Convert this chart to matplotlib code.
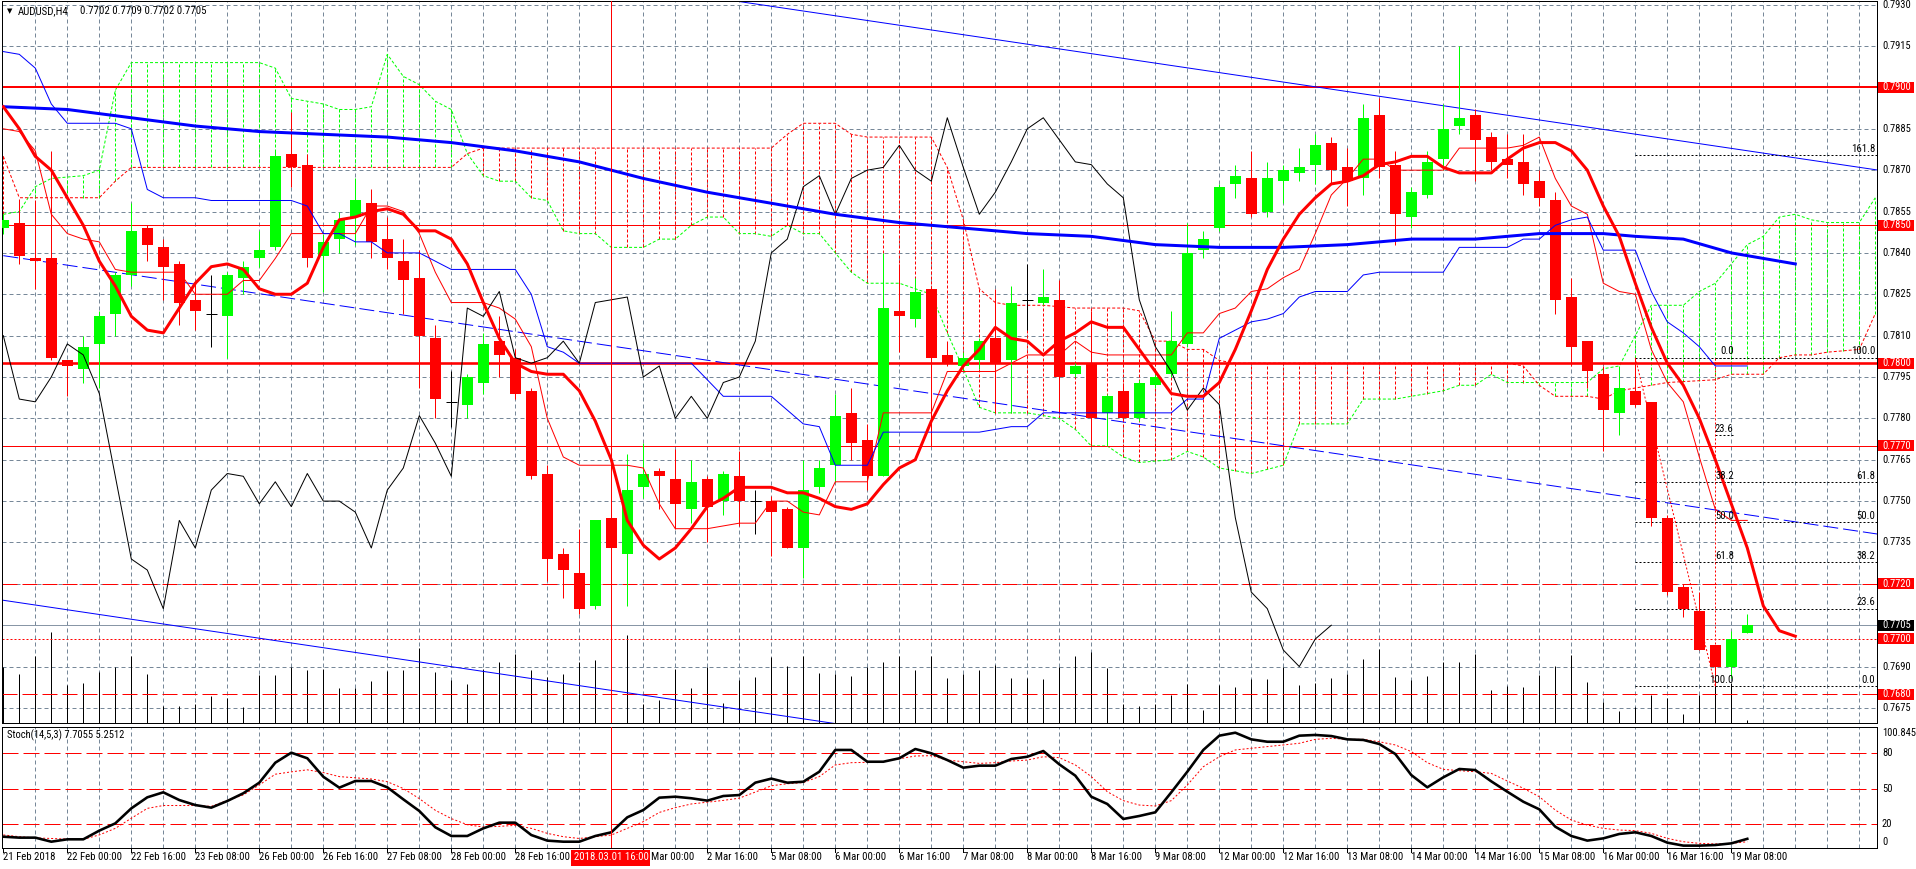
import numpy as np
import matplotlib
matplotlib.use("Agg")
import matplotlib.pyplot as plt
from matplotlib import font_manager as fm
from matplotlib.patches import Rectangle
from matplotlib.textpath import TextPath
from matplotlib.transforms import blended_transform_factory

# ======================= DATA =======================
symbol_text = "AUDUSD,H4"
header_ohlc = "0.7702 0.7709 0.7702 0.7705"
stoch_title = "Stoch(14,5,3) 7.7055 5.2512"

opens = [0.7849, 0.7851, 0.7838, 0.7838, 0.7801, 0.7798, 0.7807, 0.7818, 0.7832, 0.7849,
         0.7842, 0.7836, 0.7823, 0.7818, 0.7817, 0.7831, 0.7838, 0.7842, 0.7876, 0.7872,
         0.7839, 0.7845, 0.7853, 0.7858, 0.7845, 0.7837, 0.7831, 0.7809, 0.7786, 0.7785,
         0.7793, 0.7808, 0.7802, 0.7790, 0.7760, 0.7731, 0.7724, 0.7712, 0.7744, 0.7731,
         0.7755, 0.7761, 0.7758, 0.7747, 0.7758, 0.7750, 0.7759, 0.7750, 0.7750, 0.7747,
         0.7733, 0.7755, 0.7763, 0.7782, 0.7772, 0.7759, 0.7819, 0.7816, 0.7827, 0.7803,
         0.7799, 0.7801, 0.7809, 0.7801, 0.7823, 0.7822, 0.7823, 0.7796, 0.7800, 0.7782,
         0.7790, 0.7780, 0.7792, 0.7796, 0.7807, 0.7841, 0.7849, 0.7865, 0.7867, 0.7855,
         0.7866, 0.7869, 0.7872, 0.7880, 0.7871, 0.7867, 0.7890, 0.7872, 0.7853, 0.7861,
         0.7874, 0.7886, 0.7890, 0.7882, 0.7874, 0.7873, 0.7866, 0.7859, 0.7824, 0.7808,
         0.7796, 0.7782, 0.7790, 0.7786, 0.7744, 0.7719, 0.7710, 0.7698, 0.7690, 0.7702]
highs = [0.7854, 0.7859, 0.7859, 0.7877, 0.7801, 0.7810, 0.7819, 0.7833, 0.7858, 0.7850,
         0.7845, 0.7837, 0.7829, 0.7832, 0.7833, 0.7837, 0.7848, 0.7877, 0.7891, 0.7876,
         0.7847, 0.7855, 0.7867, 0.7863, 0.7853, 0.7845, 0.7841, 0.7814, 0.7797, 0.7796,
         0.7811, 0.7817, 0.7805, 0.7791, 0.7763, 0.7733, 0.7740, 0.7743, 0.7744, 0.7767,
         0.7771, 0.7762, 0.7769, 0.7765, 0.7759, 0.7761, 0.7768, 0.7754, 0.7752, 0.7748,
         0.7765, 0.7765, 0.7789, 0.7791, 0.7778, 0.7840, 0.7836, 0.7831, 0.7828, 0.7808,
         0.7804, 0.7809, 0.7827, 0.7828, 0.7836, 0.7834, 0.7830, 0.7800, 0.7819, 0.7789,
         0.7793, 0.7794, 0.7796, 0.7819, 0.7851, 0.7848, 0.7865, 0.7872, 0.7877, 0.7873,
         0.7872, 0.7878, 0.7883, 0.7882, 0.7878, 0.7894, 0.7896, 0.7877, 0.7864, 0.7877,
         0.7894, 0.7915, 0.7892, 0.7884, 0.7883, 0.7883, 0.7870, 0.7862, 0.7831, 0.7808,
         0.7799, 0.7799, 0.7802, 0.7786, 0.7745, 0.7720, 0.7717, 0.7698, 0.7703, 0.7709]
lows = [0.7847, 0.7836, 0.7827, 0.7801, 0.7788, 0.7793, 0.7791, 0.7810, 0.7828, 0.7837,
        0.7823, 0.7814, 0.7812, 0.7806, 0.7802, 0.7825, 0.7835, 0.7841, 0.7864, 0.7835,
        0.7826, 0.7840, 0.7843, 0.7838, 0.7834, 0.7818, 0.7791, 0.7780, 0.7777, 0.7780,
        0.7789, 0.7795, 0.7787, 0.7758, 0.7721, 0.7715, 0.7709, 0.7711, 0.7733, 0.7712,
        0.7751, 0.7747, 0.7740, 0.7742, 0.7735, 0.7745, 0.7741, 0.7738, 0.7730, 0.7733,
        0.7722, 0.7753, 0.7757, 0.7765, 0.7754, 0.7759, 0.7804, 0.7813, 0.7770, 0.7799,
        0.7797, 0.7798, 0.7782, 0.7782, 0.7812, 0.7821, 0.7782, 0.7795, 0.7770, 0.7770,
        0.7779, 0.7779, 0.7791, 0.7795, 0.7806, 0.7838, 0.7848, 0.7860, 0.7853, 0.7853,
        0.7858, 0.7866, 0.7865, 0.7865, 0.7857, 0.7861, 0.7867, 0.7843, 0.7849, 0.7860,
        0.7870, 0.7883, 0.7866, 0.7870, 0.7867, 0.7861, 0.7857, 0.7818, 0.7799, 0.7791,
        0.7768, 0.7774, 0.7784, 0.7741, 0.7716, 0.7708, 0.7696, 0.7683, 0.7686, 0.7702]
closes = [0.7852, 0.7839, 0.7837, 0.7802, 0.7799, 0.7806, 0.7817, 0.7832, 0.7848, 0.7843,
          0.7835, 0.7822, 0.7819, 0.7818, 0.7832, 0.7835, 0.7841, 0.7875, 0.7871, 0.7838,
          0.7844, 0.7852, 0.7859, 0.7844, 0.7838, 0.7830, 0.7810, 0.7787, 0.7786, 0.7795,
          0.7807, 0.7803, 0.7789, 0.7759, 0.7729, 0.7725, 0.7711, 0.7743, 0.7733, 0.7754,
          0.7760, 0.7759, 0.7749, 0.7757, 0.7748, 0.7760, 0.7750, 0.7750, 0.7746, 0.7733,
          0.7754, 0.7762, 0.7781, 0.7771, 0.7759, 0.7820, 0.7817, 0.7826, 0.7802, 0.7800,
          0.7802, 0.7808, 0.7800, 0.7822, 0.7823, 0.7824, 0.7795, 0.7799, 0.7780, 0.7788,
          0.7780, 0.7793, 0.7795, 0.7808, 0.7840, 0.7845, 0.7864, 0.7868, 0.7854, 0.7867,
          0.7870, 0.7871, 0.7879, 0.7870, 0.7866, 0.7889, 0.7871, 0.7854, 0.7862, 0.7873,
          0.7885, 0.7889, 0.7881, 0.7873, 0.7872, 0.7865, 0.7860, 0.7823, 0.7806, 0.7797,
          0.7783, 0.7791, 0.7785, 0.7744, 0.7717, 0.7711, 0.7696, 0.7690, 0.7700, 0.7705]
volumes = [5600, 4930, 6730, 9060, 3830, 4030, 5060, 5560, 6660, 4930,
           1730, 1730, 1930, 2660, 2500, 1560, 4800, 4830, 5560, 5330,
           5400, 3460, 3500, 4160, 5160, 5330, 7530, 5060, 4260, 3930,
           5400, 6130, 6930, 5260, 4560, 4930, 6130, 6260, 4660, 8830,
           1900, 2260, 5400, 3530, 5600, 2000, 4330, 4630, 6600, 5730,
           6660, 5030, 4930, 4730, 5600, 6130, 6730, 5330, 6730, 4530,
           4860, 5330, 5830, 4460, 4530, 4430, 5600, 6660, 7060, 5460,
           1930, 1660, 1860, 2800, 3930, 1330, 3830, 3630, 4430, 4430,
           5600, 3830, 3960, 4530, 4900, 6430, 7430, 4630, 4300, 4730,
           6060, 6130, 6930, 3260, 3660, 3560, 4760, 5730, 6830, 4130,
           2060, 1230, 1560, 2800, 2500, 930, 2830, 4000, 4000, 330]

# thick red moving average (shifted 3 bars forward), bars 0..112
ma_red = [0.7893, 0.7885, 0.7875, 0.7870, 0.7860, 0.7850, 0.7837, 0.7828, 0.7817, 0.7812,
          0.7811, 0.7820, 0.7829, 0.7835, 0.7836, 0.7834, 0.7827, 0.7825, 0.7825, 0.7829,
          0.7842, 0.7852, 0.7853, 0.7855, 0.7856, 0.7854, 0.7848, 0.7848, 0.7845, 0.7836,
          0.7822, 0.7809, 0.7800, 0.7797, 0.7796, 0.7796, 0.7790, 0.7779, 0.7765, 0.7743,
          0.7734, 0.7729, 0.7733, 0.7740, 0.7748, 0.7751, 0.7755, 0.7755, 0.7755, 0.7753,
          0.7753, 0.7751, 0.7748, 0.7747, 0.7749, 0.7756, 0.7762, 0.7765, 0.7779, 0.7790,
          0.7799, 0.7805, 0.7813, 0.7809, 0.7808, 0.7803, 0.7808, 0.7811, 0.7815, 0.7813,
          0.7813, 0.7805, 0.7797, 0.7789, 0.7788, 0.7788, 0.7793, 0.7805, 0.7819, 0.7834,
          0.7845, 0.7854, 0.7860, 0.7865, 0.7866, 0.7868, 0.7872, 0.7873, 0.7875, 0.7875,
          0.7871, 0.7869, 0.7869, 0.7869, 0.7874, 0.7878, 0.7880, 0.7880, 0.7877, 0.7870,
          0.7857, 0.7846, 0.7829, 0.7813, 0.7800, 0.7792, 0.7780, 0.7765, 0.7749, 0.7733,
          0.7712, 0.7703, 0.7701]
# thick blue moving average
ma_blue_bars = [0, 4, 8, 12, 16, 20, 24, 28, 32, 36, 40, 44, 48, 52, 56, 60, 64, 68, 72, 76,
                80, 84, 88, 92, 96, 100, 102, 105, 108, 112]
ma_blue = [0.7893, 0.7892, 0.7889, 0.7886, 0.7884, 0.7883, 0.7882, 0.7880, 0.7877, 0.7873,
           0.7867, 0.7862, 0.7858, 0.7854, 0.7851, 0.7849, 0.7847, 0.7846, 0.7843, 0.7842,
           0.7842, 0.7843, 0.7845, 0.7845, 0.7847, 0.7847, 0.7846, 0.7845, 0.7840, 0.7836]
# Ichimoku: Tenkan-sen (thin red) and Kijun-sen (thin blue), bars 0..109
tenkan = [0.7885, 0.7884, 0.7877, 0.7854, 0.7847, 0.7845, 0.7844, 0.7834, 0.7833, 0.7833,
          0.7833, 0.7833, 0.7825, 0.7825, 0.7825, 0.7830, 0.7830, 0.7838, 0.7847, 0.7847,
          0.7847, 0.7847, 0.7847, 0.7857, 0.7857, 0.7855, 0.7847, 0.7833, 0.7822, 0.7822,
          0.7822, 0.7820, 0.7816, 0.7806, 0.7780, 0.7766, 0.7763, 0.7763, 0.7763, 0.7763,
          0.7762, 0.7749, 0.7740, 0.7740, 0.7740, 0.7741, 0.7742, 0.7742, 0.7750, 0.7750,
          0.7746, 0.7745, 0.7757, 0.7757, 0.7757, 0.7782, 0.7782, 0.7782, 0.7782, 0.7797,
          0.7797, 0.7797, 0.7797, 0.7800, 0.7803, 0.7803, 0.7803, 0.7808, 0.7804, 0.7803,
          0.7803, 0.7803, 0.7803, 0.7803, 0.7811, 0.7811, 0.7818, 0.7820, 0.7826, 0.7827,
          0.7831, 0.7834, 0.7847, 0.7861, 0.7867, 0.7874, 0.7874, 0.7870, 0.7870, 0.7870,
          0.7870, 0.7878, 0.7878, 0.7878, 0.7878, 0.7879, 0.7882, 0.7867, 0.7857, 0.7854,
          0.7829, 0.7826, 0.7825, 0.7805, 0.7793, 0.7786, 0.7766, 0.7747, 0.7743, 0.7743]
kijun = [0.7913, 0.7912, 0.7907, 0.7894, 0.7887, 0.7887, 0.7887, 0.7887, 0.7885, 0.7863,
         0.7860, 0.7860, 0.7860, 0.7859, 0.7859, 0.7859, 0.7859, 0.7859, 0.7859, 0.7857,
         0.7847, 0.7847, 0.7844, 0.7844, 0.7840, 0.7840, 0.7840, 0.7837, 0.7834, 0.7834,
         0.7834, 0.7834, 0.7834, 0.7825, 0.7806, 0.7804, 0.7800, 0.7800, 0.7800, 0.7800,
         0.7800, 0.7800, 0.7800, 0.7800, 0.7794, 0.7788, 0.7788, 0.7788, 0.7788, 0.7783,
         0.7778, 0.7777, 0.7763, 0.7763, 0.7763, 0.7775, 0.7775, 0.7775, 0.7775, 0.7775,
         0.7775, 0.7775, 0.7776, 0.7777, 0.7777, 0.7782, 0.7782, 0.7782, 0.7782, 0.7782,
         0.7782, 0.7782, 0.7782, 0.7782, 0.7787, 0.7787, 0.7809, 0.7812, 0.7815, 0.7816,
         0.7818, 0.7824, 0.7826, 0.7826, 0.7826, 0.7832, 0.7833, 0.7833, 0.7833, 0.7833,
         0.7833, 0.7842, 0.7842, 0.7842, 0.7842, 0.7845, 0.7845, 0.7850, 0.7852, 0.7853,
         0.7841, 0.7841, 0.7841, 0.7826, 0.7815, 0.7811, 0.7806, 0.7799, 0.7799, 0.7799]
chikou_shift = 26
# Senkou span A (green) and B (red)
span_a_bars = [0, 1, 2, 3, 5, 6, 7, 8, 16, 17, 18, 19, 20, 21, 22, 23, 24, 25, 26, 27, 28, 29,
               30, 31, 32, 33, 34, 35, 36, 37, 38, 39, 40, 41, 42, 43, 44, 45, 46, 47, 48, 49,
               50, 51, 52, 53, 54, 55, 56, 57, 58, 59, 60, 61, 62, 64, 66, 67, 68, 69, 70, 71,
               73, 74, 75, 76, 78, 80, 81, 84, 85, 87, 89, 90, 91, 92, 93, 94, 97, 99, 100,
               101, 102, 103, 104, 105, 106, 107, 108, 109, 110, 111, 112, 113, 114, 116, 117]
span_a = [0.7854, 0.7855, 0.7864, 0.7867, 0.7868, 0.7870, 0.7899, 0.7909, 0.7909, 0.7907,
          0.7896, 0.7895, 0.7894, 0.7892, 0.7892, 0.7893, 0.7912, 0.7904, 0.7901, 0.7895,
          0.7892, 0.7876, 0.7868, 0.7866, 0.7866, 0.7860, 0.7859, 0.7848, 0.7847, 0.7847,
          0.7842, 0.7842, 0.7842, 0.7845, 0.7845, 0.7850, 0.7853, 0.7853, 0.7847, 0.7847,
          0.7846, 0.7850, 0.7847, 0.7847, 0.7840, 0.7833, 0.7829, 0.7829, 0.7829, 0.7827,
          0.7825, 0.7811, 0.7798, 0.7784, 0.7782, 0.7782, 0.7780, 0.7776, 0.7770, 0.7770,
          0.7766, 0.7764, 0.7765, 0.7768, 0.7766, 0.7762, 0.7760, 0.7763, 0.7778, 0.7778,
          0.7787, 0.7787, 0.7789, 0.7790, 0.7792, 0.7792, 0.7796, 0.7793, 0.7793, 0.7793,
          0.7798, 0.7799, 0.7810, 0.7821, 0.7821, 0.7821, 0.7826, 0.7829, 0.7836, 0.7843,
          0.7846, 0.7853, 0.7854, 0.7852, 0.7851, 0.7851, 0.7860]
span_b_bars = [0, 1, 6, 7, 8, 28, 29, 30, 48, 49, 50, 52, 53, 54, 58, 59, 60, 61, 62, 63, 65,
               67, 70, 71, 72, 73, 74, 75, 76, 77, 94, 95, 96, 97, 99, 100, 101, 102, 103,
               104, 107, 108, 110, 111, 112, 113, 114, 116, 117]
span_b = [0.7875, 0.7860, 0.7860, 0.7866, 0.7871, 0.7871, 0.7876, 0.7878, 0.7878, 0.7883,
          0.7887, 0.7887, 0.7883, 0.7882, 0.7882, 0.7871, 0.7852, 0.7827, 0.7822, 0.7821,
          0.7821, 0.7820, 0.7820, 0.7819, 0.7808, 0.7808, 0.7805, 0.7805, 0.7801, 0.7800,
          0.7800, 0.7799, 0.7792, 0.7788, 0.7788, 0.7787, 0.7790, 0.7791, 0.7792, 0.7793,
          0.7794, 0.7796, 0.7796, 0.7802, 0.7803, 0.7803, 0.7804, 0.7805, 0.7818]

# Stochastic (main, signal), bars 0..109
stoch_main = [9.5, 8.7, 8.7, 5.3, 7.3, 7.3, 14.6, 20.7, 33.3, 42.6,
              46.8, 40.3, 36.1, 33.9, 39.5, 46.0, 54.9, 71.7, 80.1, 75.4,
              59.9, 50.7, 56.3, 56.3, 51.0, 40.9, 31.1, 17.4, 10.1, 10.1,
              16.5, 21.3, 21.3, 10.9, 6.2, 5.3, 5.3, 10.1, 13.2, 25.8,
              31.9, 42.3, 43.1, 41.8, 39.8, 43.7, 44.5, 54.9, 58.3, 54.9,
              55.7, 64.1, 82.4, 82.4, 72.5, 72.5, 75.4, 83.2, 79.6, 73.9,
              67.5, 69.2, 69.2, 74.8, 76.7, 81.5, 70.3, 60.8, 43.1, 37.0,
              24.4, 26.9, 30.0, 46.8, 64.1, 82.4, 94.4, 96.9, 91.3, 89.3,
              89.3, 94.4, 95.0, 94.1, 91.3, 90.8, 87.4, 79.0, 61.3, 51.0,
              59.4, 66.4, 65.5, 56.0, 47.3, 38.9, 32.5, 17.9, 10.1, 6.2,
              8.1, 11.8, 13.2, 10.1, 4.5, 2.0, 2.0, 2.5, 3.9, 7.7055]
stoch_signal = [11.0, 9.5, 8.5, 8.0, 7.5, 7.3, 11.0, 16.5, 25.0, 33.3,
                35.7, 35.7, 35.7, 35.0, 40.0, 44.6, 53.0, 62.0, 64.0, 65.7,
                63.4, 60.0, 59.0, 58.0, 55.7, 50.0, 41.5, 31.7, 24.7, 19.6,
                17.6, 18.2, 19.0, 16.5, 12.3, 9.5, 8.0, 9.5, 10.9, 16.5,
                22.1, 29.9, 33.9, 37.0, 38.5, 40.0, 41.9, 47.0, 52.3, 54.0,
                55.0, 60.0, 69.8, 71.7, 72.0, 72.5, 75.0, 77.3, 77.6, 73.9,
                72.5, 71.1, 71.7, 73.1, 73.9, 76.7, 75.9, 69.8, 60.0, 47.3,
                39.8, 36.1, 35.3, 39.8, 52.9, 68.3, 76.7, 82.4, 83.8, 85.2,
                86.6, 88.0, 91.3, 92.2, 91.3, 91.3, 89.3, 86.6, 81.0, 71.7,
                66.1, 65.0, 64.1, 62.7, 56.3, 50.2, 43.1, 31.9, 23.5, 19.3,
                16.5, 15.1, 14.6, 12.3, 8.1, 5.3, 3.9, 3.4, 3.9, 5.2512]
stoch_levels = [20, 50, 80]
stoch_max = 100.8453

# horizontal levels (price, style)
level_prices = [0.7900, 0.7850, 0.7800, 0.7770, 0.7720, 0.7700, 0.7680]
level_styles = ["thick", "thin", "thicker", "thin", "dash", "dot", "dash"]
bid_price = 0.7705

# trend lines (bar, price) anchors
trend_upper = ([45, 117.2], [0.7932, 0.7870])
trend_lower = ([-1, 52.5], [0.77149, 0.76689])
trend_mid = ([0, 117.2], [0.7839, 0.7738])

# vertical marker
vline_bar = 38
vline_label = "2018.03.01 16:00"

# Fibonacci objects
fibB_start = 102
fibB_levels = [0.78755, 0.7802, 0.7757, 0.77425, 0.7728, 0.7711, 0.7683]
fibB_labels = ["161.8", "100.0", "61.8", "50.0", "38.2", "23.6", "0.0"]
fibB_anchor = ([102, 107], [0.7802, 0.7683])
fibA_bars = [107, 108.1]
fibA_levels = [0.7802, 0.7774, 0.7757, 0.77425, 0.7728, 0.7683]
fibA_labels = ["0.0", "23.6", "38.2", "50.0", "61.8", "100.0"]

# time axis labels (the label at bar 36 is hidden under the marker label in the original,
# and only "Mar 00:00" of bar 40's label is visible)
time_label_bars = [0, 4, 8, 12, 16, 20, 24, 28, 32, 40, 44, 48, 52, 56, 60, 64, 68, 72, 76,
                   80, 84, 88, 92, 96, 100, 104, 108]
time_labels = ["21 Feb 2018", "22 Feb 00:00", "22 Feb 16:00", "23 Feb 08:00", "26 Feb 00:00",
               "26 Feb 16:00", "27 Feb 08:00", "28 Feb 00:00", "28 Feb 16:00",
               "Mar 00:00", "2 Mar 16:00", "5 Mar 08:00", "6 Mar 00:00", "6 Mar 16:00",
               "7 Mar 08:00", "8 Mar 00:00", "8 Mar 16:00", "9 Mar 08:00", "12 Mar 00:00",
               "12 Mar 16:00", "13 Mar 08:00", "14 Mar 00:00", "14 Mar 16:00", "15 Mar 08:00",
               "16 Mar 00:00", "16 Mar 16:00", "19 Mar 08:00"]

# ======================= STYLE / LAYOUT =======================
W, H = 1916, 869
DPI = 100
LW1 = 0.72  # 1 pixel


def pick_font():
    for name in ["Liberation Sans Narrow", "Roboto Condensed", "Liberation Sans"]:
        try:
            fm.findfont(fm.FontProperties(family=name), fallback_to_default=False)
            return name
        except Exception:
            pass
    return "DejaVu Sans"


FONT = pick_font()
plt.rcParams["font.family"] = [FONT, "DejaVu Sans"]
_FP = fm.FontProperties(family=FONT)


def fit_size(s, target_px):
    w = TextPath((0, 0), s, size=10, prop=_FP).get_extents().width * DPI / 72.0
    return 10.0 * target_px / w


FS_TIME = fit_size("22 Feb 00:00", 54)
FS_PRICE = fit_size("0.7930", 27.5)
FS_STOCH = fit_size("Stoch(14,5,3) 7.7055 5.2512", 116)
FS_HEAD = FS_STOCH * 1.04
FS_FIB = fit_size("161.8", 22.5)

GREEN = "#00ff00"
RED = "#ff0000"
BLUE = "#0000ff"
GRID = "#778899"

fig = plt.figure(figsize=(W / DPI, H / DPI), dpi=DPI, facecolor="white")


def fx(px):
    return px / W


def fy(py):
    return 1 - py / H


X_LEFT, X_RIGHT = 2, 1877
MAIN_TOP, MAIN_BOT = 0.5, 723
ST_TOP, ST_BOT = 727, 848

ax = fig.add_axes([fx(X_LEFT), fy(MAIN_BOT), (X_RIGHT - X_LEFT) / W, (MAIN_BOT - MAIN_TOP) / H])
axs = fig.add_axes([fx(X_LEFT), fy(ST_BOT), (X_RIGHT - X_LEFT) / W, (ST_BOT - ST_TOP) / H])

BAR_PX = 16.0
X0_PX = 3.3
xlim = ((X_LEFT - X0_PX) / BAR_PX, (X_RIGHT - X0_PX) / BAR_PX)
PX = 0.00003626  # price per pixel
YTOP = 0.79317 - MAIN_TOP * PX
YBOT = 0.79317 - MAIN_BOT * PX
for a in (ax, axs):
    a.set_xlim(*xlim)
    a.set_xticks([])
    a.set_yticks([])
    a.set_facecolor("white")
    for s in a.spines.values():
        s.set_linewidth(LW1)
        s.set_color("black")
ax.set_ylim(YBOT, YTOP)
ST_PXU = (ST_BOT - 728) / stoch_max
axs.set_ylim(0, stoch_max + (728 - ST_TOP) / ST_PXU)

# ---------------- grid ----------------
price_ticks = np.round(np.arange(0.7675, 0.79301, 0.0015), 4)
grid_bars = np.arange(2, 118, 2)
for p in price_ticks:
    ax.axhline(p, color=GRID, lw=LW1, ls=(0, (4, 3)), zorder=0.5)
for gb in grid_bars:
    ax.axvline(gb, color=GRID, lw=LW1, ls=(0, (4, 3)), zorder=0.5)
    axs.axvline(gb, color=GRID, lw=LW1, ls=(0, (4, 3)), zorder=0.5)

# ---------------- Ichimoku cloud ----------------
hk = np.arange(0, 118)
ha = np.interp(hk, span_a_bars, span_a)
hb = np.interp(hk, span_b_bars, span_b)
for kk, va, vb in zip(hk, ha, hb):
    col = GREEN if va >= vb else RED
    ax.vlines(kk, min(va, vb), max(va, vb), colors=col, lw=LW1, linestyles=[(0, (3, 2))], zorder=1)
ax.plot(span_a_bars, span_a, color=GREEN, lw=LW1, ls=(0, (3, 2)), zorder=1.1)
ax.plot(span_b_bars, span_b, color=RED, lw=LW1, ls=(0, (3, 2)), zorder=1.1)

# ---------------- volumes ----------------
kb = np.arange(len(closes))
vol = np.array(volumes, dtype=float)
ax.vlines(kb, YBOT, YBOT + vol * 0.01 * PX, colors="black", lw=LW1, zorder=1.5)

# ---------------- horizontal levels ----------------
for p, st in zip(level_prices, level_styles):
    if st == "thick":
        ax.axhline(p, color=RED, lw=2 * LW1, zorder=2)
    elif st == "thicker":
        ax.axhline(p, color=RED, lw=2.6 * LW1, zorder=2)
    elif st == "thin":
        ax.axhline(p, color=RED, lw=LW1, zorder=2)
    elif st == "dash":
        ax.axhline(p, color=RED, lw=LW1, ls=(0, (15, 5)), zorder=2)
    else:
        ax.axhline(p, color=RED, lw=LW1, ls=(0, (2, 2)), zorder=2)
ax.axhline(bid_price, color="#8896a6", lw=LW1, zorder=2)

# ---------------- trend lines ----------------
ax.plot(*trend_upper, color=BLUE, lw=LW1, zorder=2)
ax.plot(*trend_lower, color=BLUE, lw=LW1, zorder=2)
ax.plot(*trend_mid, color=BLUE, lw=LW1, ls=(0, (15, 5)), zorder=2)

# ---------------- Fibonacci ----------------
for p in fibB_levels:
    ax.plot([fibB_start, xlim[1]], [p, p], color="black", lw=LW1, ls=(0, (2, 2)), zorder=2.2)
for p, t in zip(fibB_levels, fibB_labels):
    ax.text(117.0, p + 1.2 * PX, t, ha="right", va="bottom", fontsize=FS_FIB, color="black", zorder=6)
for p in fibA_levels:
    ax.plot(fibA_bars, [p, p], color="black", lw=LW1, ls=(0, (2, 2)), zorder=2.2)
for p, t in zip(fibA_levels, fibA_labels):
    ax.text(fibA_bars[1] + 0.05, p + 1.2 * PX, t, ha="right", va="bottom", fontsize=FS_FIB,
            color="black", zorder=6)
ax.plot(*fibB_anchor, color=RED, lw=LW1, ls=(0, (2, 2)), zorder=2.2)
ax.plot([fibA_bars[0], fibA_bars[0]], [fibA_levels[0], fibA_levels[-1]], color=RED, lw=LW1,
        ls=(0, (2, 2)), zorder=2.2)

# ---------------- candles ----------------
o = np.array(opens); h = np.array(highs); l = np.array(lows); c = np.array(closes)
BW = 11 / BAR_PX
up = c > o
dn = c < o
dj = c == o
wick_cols = np.where(up, GREEN, np.where(dn, RED, "black"))
ax.vlines(kb, l, h, colors=list(wick_cols), lw=LW1, zorder=3)
ax.bar(kb[up], (c - o)[up], bottom=o[up], width=BW, color=GREEN, lw=0, zorder=3.1)
ax.bar(kb[dn], (o - c)[dn], bottom=c[dn], width=BW, color=RED, lw=0, zorder=3.1)
ax.hlines(c[dj], kb[dj] - BW / 2, kb[dj] + BW / 2, colors="black", lw=LW1, zorder=3.1)

# ---------------- indicator lines ----------------
ax.plot(kb, tenkan, color=RED, lw=LW1, zorder=4)
ax.plot(kb, kijun, color=BLUE, lw=LW1, zorder=4)
nck = len(closes) - chikou_shift
ax.plot(kb[:nck], c[chikou_shift:], color="black", lw=LW1, zorder=4)
ax.plot(ma_blue_bars, ma_blue, color=BLUE, lw=3 * LW1, zorder=4.5, solid_joinstyle="round")
ax.plot(np.arange(len(ma_red)), ma_red, color=RED, lw=3 * LW1, zorder=4.6, solid_joinstyle="round")

# vertical line
ax.axvline(vline_bar, color=RED, lw=LW1, zorder=5)
axs.axvline(vline_bar, color=RED, lw=LW1, zorder=5)

# ---------------- stochastic ----------------
for lv in stoch_levels:
    axs.axhline(lv, color=RED, lw=LW1, ls=(0, (16, 5)), zorder=1)
axs.plot(kb, stoch_signal, color=RED, lw=LW1, ls=(0, (2, 2)), zorder=2)
axs.plot(kb, stoch_main, color="black", lw=2.6 * LW1, zorder=3)

# ---------------- texts ----------------
fig.text(fx(7), fy(11), "\u25bc", fontsize=5, family="DejaVu Sans", va="center", ha="left")
fig.text(fx(18), fy(11), symbol_text, fontsize=FS_HEAD, va="center", ha="left")
fig.text(fx(80), fy(11), header_ohlc, fontsize=FS_HEAD, va="center", ha="left")
fig.text(fx(7), fy(735), stoch_title, fontsize=FS_STOCH, va="center", ha="left")

tr_main = blended_transform_factory(fig.transFigure, ax.transData)
tr_st = blended_transform_factory(fig.transFigure, axs.transData)
box_levels = level_prices + [bid_price]
hidden = set(round(p, 4) for p in box_levels)
for p in price_ticks:
    if round(p, 4) in hidden:
        continue
    ax.text(fx(1882), p, f"{p:.4f}", transform=tr_main, fontsize=FS_PRICE, va="center", ha="left",
            clip_on=False)
box_cols = [RED] * len(level_prices) + ["black"]
for p, bc in zip(box_levels, box_cols):
    ax.add_patch(Rectangle((fx(1878), p - 5.5 * PX), fx(1914) - fx(1878), 11 * PX, transform=tr_main,
                           facecolor=bc, edgecolor="none", clip_on=False, zorder=10))
    ax.text(fx(1882), p, f"{p:.4f}", transform=tr_main, fontsize=FS_PRICE, va="center", ha="left",
            color="white", clip_on=False, zorder=11)

st_labels = [(stoch_max, "100.8453", 733), (80, "80", None), (50, "50", None), (20, "20", None),
             (0, "0", 842)]
for v, t, ypx in st_labels:
    if ypx is None:
        axs.text(fx(1882), v, t, transform=tr_st, fontsize=FS_PRICE, va="center", ha="left",
                 clip_on=False)
    else:
        fig.text(fx(1882), fy(ypx), t, fontsize=FS_PRICE, va="center", ha="left")

vx = X0_PX + BAR_PX * vline_bar
box_l, box_r = vx - 40, vx + 39
for b, t in zip(time_label_bars, time_labels):
    xpx = X0_PX + BAR_PX * b
    tx = max(xpx, box_r + 1) if b == 40 else xpx
    fig.text(fx(tx), fy(857), t, fontsize=FS_TIME, va="center", ha="left")
    fig.add_artist(plt.Line2D([fx(xpx), fx(xpx)], [fy(848), fy(852)], color="black", lw=LW1))

fig.add_artist(Rectangle((fx(box_l), fy(866)), (box_r - box_l) / W, 16 / H, transform=fig.transFigure,
                         facecolor=RED, edgecolor="none", zorder=10))
fig.text(fx(vx), fy(857.5), vline_label, fontsize=FS_TIME, va="center", ha="center", color="white",
         zorder=11)

fig.savefig("out.png", dpi=DPI, facecolor="white")
